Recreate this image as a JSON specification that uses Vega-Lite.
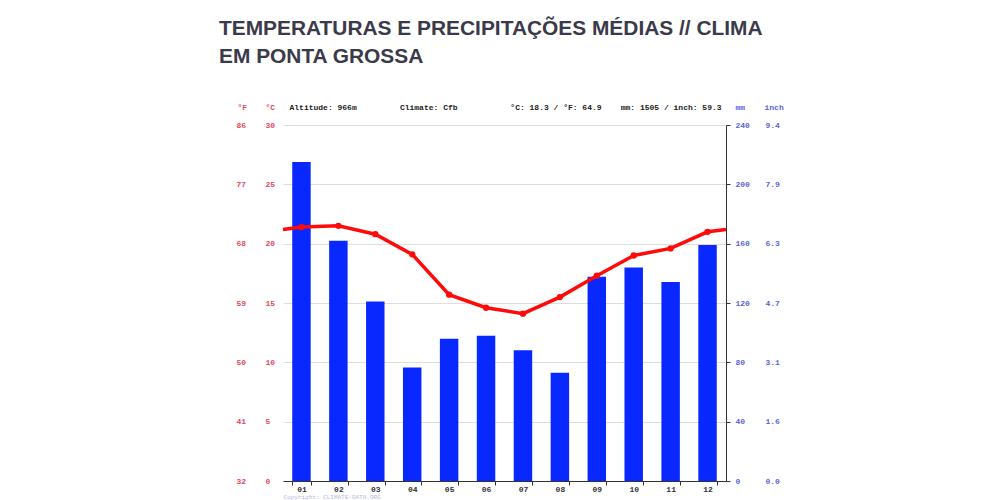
{
  "$schema": "https://vega.github.io/schema/vega-lite/v6.json",
  "autosize": "none",
  "width": 443,
  "height": 356,
  "padding": {"left": 283, "top": 125, "right": 273, "bottom": 19},
  "background": "white",
  "config": {
    "view": {"stroke": null},
    "axis": {"labelFont": "Liberation Mono", "labelFontSize": 8, "labelFontWeight": "bold", "titleFont": "Liberation Mono", "titleFontSize": 8, "titleFontWeight": "bold"}
  },
  "title": {
    "text": ["TEMPERATURAS E PRECIPITAÇÕES MÉDIAS // CLIMA", "EM PONTA GROSSA"],
    "font": "Liberation Sans",
    "fontSize": 20.9,
    "fontWeight": "bold",
    "color": "#3b3a4a",
    "anchor": "start",
    "frame": "group",
    "dx": -64,
    "lineHeight": 28,
    "offset": 36
  },
  "datasets": {
    "months": [
      {"month": "01", "m": 1, "temp": 21.4, "precip": 215},
      {"month": "02", "m": 2, "temp": 21.5, "precip": 162},
      {"month": "03", "m": 3, "temp": 20.8, "precip": 121},
      {"month": "04", "m": 4, "temp": 19.1, "precip": 76.6},
      {"month": "05", "m": 5, "temp": 15.7, "precip": 95.9},
      {"month": "06", "m": 6, "temp": 14.6, "precip": 98},
      {"month": "07", "m": 7, "temp": 14.1, "precip": 88.1},
      {"month": "08", "m": 8, "temp": 15.5, "precip": 73},
      {"month": "09", "m": 9, "temp": 17.3, "precip": 137.7},
      {"month": "10", "m": 10, "temp": 19.0, "precip": 144},
      {"month": "11", "m": 11, "temp": 19.6, "precip": 134.2},
      {"month": "12", "m": 12, "temp": 21.0, "precip": 159.1}
    ],
    "tempLine": [
      {"m": 0.5, "temp": 21.2},
      {"m": 1, "temp": 21.4},
      {"m": 2, "temp": 21.5},
      {"m": 3, "temp": 20.8},
      {"m": 4, "temp": 19.1},
      {"m": 5, "temp": 15.7},
      {"m": 6, "temp": 14.6},
      {"m": 7, "temp": 14.1},
      {"m": 8, "temp": 15.5},
      {"m": 9, "temp": 17.3},
      {"m": 10, "temp": 19.0},
      {"m": 11, "temp": 19.6},
      {"m": 12, "temp": 21.0},
      {"m": 12.5, "temp": 21.2}
    ]
  },
  "layer": [
    {
      "data": {"name": "months"},
      "mark": {"type": "bar", "color": "#0828ff"},
      "encoding": {
        "x": {
          "field": "month", "type": "ordinal",
          "scale": {"paddingInner": 0.5, "paddingOuter": 0.25},
          "axis": {
            "orient": "bottom", "labelAngle": 0, "labelColor": "#333", "labelPadding": 0,
            "domainColor": "#333", "tickColor": "#333", "tickSize": 4, "tickBand": "extent",
            "title": "Copyright: CLIMATE-DATA.ORG", "titleColor": "#b4b8e0", "titleAnchor": "start",
            "titleFontSize": 6, "titleFontWeight": "normal",
            "titleAlign": "left", "titleX": 0, "titleY": 18.5, "titleBaseline": "bottom"
          }
        },
        "y": {
          "field": "precip", "type": "quantitative",
          "scale": {"domain": [0, 240], "nice": false},
          "axis": {
            "orient": "right", "values": [0, 40, 80, 120, 160, 200, 240], "grid": false,
            "domainColor": "#333", "tickColor": "#333", "tickSize": 4, "labelPadding": 5,
            "labelAlign": "left", "labelColor": "#5a64d6",
            "title": "mm", "titleColor": "#5a64d6", "titleAngle": 0, "titleX": 9, "titleY": -18,
            "titleAlign": "left", "titleBaseline": "middle"
          }
        }
      }
    },
    {
      "data": {"name": "months"},
      "mark": {"type": "point", "opacity": 0},
      "encoding": {
        "x": {"field": "m", "type": "quantitative", "scale": {"domain": [0.5, 12.5], "nice": false, "zero": false}, "axis": null},
        "y": {
          "field": "precip", "type": "quantitative",
          "scale": {"domain": [0, 240], "nice": false},
          "axis": {
            "orient": "right", "values": [0, 40, 80, 120, 160, 200, 240], "grid": false,
            "domain": false, "ticks": false, "labelPadding": 39, "labelAlign": "left",
            "labelColor": "#5a64d6", "labelExpr": "format(datum.value / 25.4, '.1f')",
            "title": "inch", "titleColor": "#5a64d6", "titleAngle": 0, "titleX": 38, "titleY": -18,
            "titleAlign": "left", "titleBaseline": "middle"
          }
        }
      }
    },
    {
      "data": {"name": "tempLine"},
      "mark": {"type": "line", "color": "#ff0a0a", "strokeWidth": 3.5},
      "encoding": {
        "x": {
          "field": "m", "type": "quantitative",
          "scale": {"domain": [0.5, 12.5], "nice": false, "zero": false},
          "axis": {
            "orient": "top", "labels": false, "ticks": false, "domain": false, "grid": false,
            "title": "Altitude: 966m\u00a0\u00a0\u00a0\u00a0\u00a0\u00a0\u00a0\u00a0\u00a0Climate: Cfb\u00a0\u00a0\u00a0\u00a0\u00a0\u00a0\u00a0\u00a0\u00a0\u00a0\u00a0°C: 18.3 / °F: 64.9\u00a0\u00a0\u00a0\u00a0mm: 1505 / inch: 59.3",
            "titleColor": "#222", "titleAnchor": "start", "titleAlign": "left", "titleX": 6, "titleY": -18,
            "titleBaseline": "middle"
          }
        },
        "y": {
          "field": "temp", "type": "quantitative",
          "scale": {"domain": [0, 30], "nice": false},
          "axis": {
            "orient": "left", "values": [0, 5, 10, 15, 20, 25, 30], "grid": true, "gridColor": "#dddddd",
            "domain": false, "ticks": false, "labelAlign": "left", "labelPadding": 18,
            "labelColor": "#e34a5a",
            "title": "°C", "titleColor": "#e34a5a", "titleAngle": 0, "titleX": -18, "titleY": -18,
            "titleAlign": "left", "titleBaseline": "middle"
          }
        }
      }
    },
    {
      "data": {"name": "months"},
      "mark": {"type": "point", "filled": true, "color": "#ff0a0a", "size": 40, "opacity": 1},
      "encoding": {
        "x": {"field": "m", "type": "quantitative", "scale": {"domain": [0.5, 12.5], "nice": false, "zero": false}, "axis": null},
        "y": {
          "field": "temp", "type": "quantitative",
          "scale": {"domain": [0, 30], "nice": false},
          "axis": {
            "orient": "left", "values": [0, 5, 10, 15, 20, 25, 30], "grid": false,
            "domain": false, "ticks": false, "labelAlign": "left", "labelPadding": 47,
            "labelColor": "#e34a5a", "labelExpr": "format(datum.value * 1.8 + 32, 'd')",
            "title": "°F", "titleColor": "#e34a5a", "titleAngle": 0, "titleX": -46, "titleY": -18,
            "titleAlign": "left", "titleBaseline": "middle"
          }
        }
      }
    }
  ],
  "resolve": {"scale": {"x": "independent", "y": "independent"}, "axis": {"x": "independent", "y": "independent"}}
}
